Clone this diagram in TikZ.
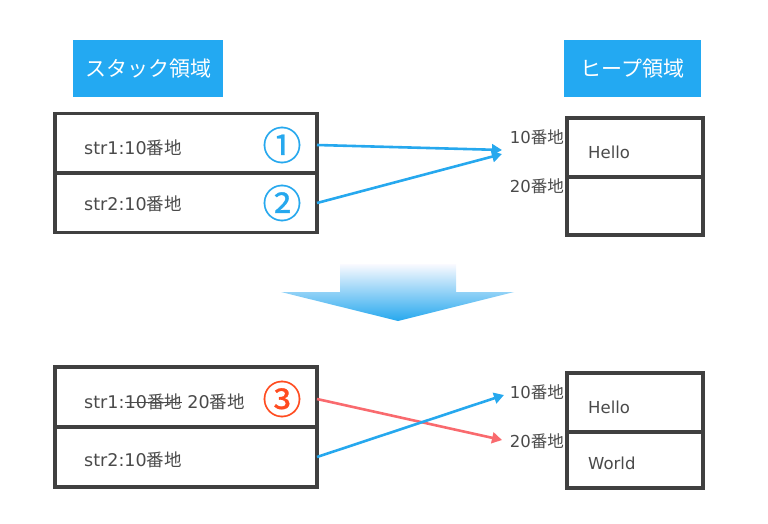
\documentclass[tikz,border=0pt]{standalone}
\usepackage{fontspec}
\setmainfont{DejaVu Sans}
\newfontfamily\jp{Noto Sans CJK JP}
\newfontfamily\jpcirc[FakeBold=0.8]{Noto Sans CJK JP}
\usetikzlibrary{arrows.meta}
\definecolor{hdr}{HTML}{23A9F2}
\definecolor{barrow}{HTML}{26A8EE}
\definecolor{rarrow}{HTML}{F96A6E}
\definecolor{circred}{HTML}{FF4B1F}
\definecolor{frame}{HTML}{404040}
\definecolor{txt}{HTML}{4A4A4A}
\begin{document}
\begin{tikzpicture}[x=1pt,y=-1pt,
  hdrbox/.style={fill=hdr,text=white,font=\jp\fontsize{21}{24}\selectfont,minimum height=57pt,inner sep=0pt},
  cell/.style={draw=frame,line width=3.4pt,fill=white,inner sep=0pt},
  celltext/.style={text=txt,font=\fontsize{17.5}{19}\selectfont,anchor=west,inner sep=0pt},
  heaptext/.style={text=txt,font=\fontsize{16.5}{18}\selectfont,anchor=west,inner sep=0pt},
  addr/.style={text=txt,font=\fontsize{16.5}{18}\selectfont,anchor=east,inner sep=0pt},
  circnum/.style={font=\jpcirc\fontsize{39}{42}\selectfont,inner sep=0pt},
  barr/.style={draw=barrow,line width=2.6pt,-{Triangle[length=10pt,width=11pt]}},
  rarr/.style={draw=rarrow,line width=2.6pt,-{Triangle[length=10pt,width=11pt]}}]
\useasboundingbox (0,0) rectangle (768,524);
% headers
\node[hdrbox,minimum width=150pt] (hs) at (148,68.5) {スタック領域};
\node[hdrbox,minimum width=137pt] (hh) at (632.5,68.5) {ヒープ領域};
% top stack
\node[cell,minimum width=262pt,minimum height=59.5pt] (s1) at (186,143.2) {};
\node[cell,minimum width=262pt,minimum height=59.5pt] (s2) at (186,202.7) {};
\node[celltext] (t1) at (84,148) {str1:10{\jp 番地}};
\node[celltext] (t2) at (84,204) {str2:10{\jp 番地}};
\node[circnum,text=barrow] (c1) at (282,145) {①};
\node[circnum,text=barrow] (c2) at (282,203) {②};
% top heap
\node[cell,minimum width=136pt,minimum height=59pt] (h1) at (635,147.5) {};
\node[cell,minimum width=136pt,minimum height=58pt] (h2) at (635,206) {};
\node[heaptext] (hello1) at (588,152) {Hello};
\node[addr] (a10) at (564,137) {10{\jp 番地}};
\node[addr] (a20) at (564,186) {20{\jp 番地}};
\coordinate (p1s) at (317,145);
\coordinate (p2s) at (317,203);
\coordinate (e1) at (502,150);
\coordinate (e2) at (502,154);
\draw[barr] (p1s) -- (e1);
\draw[barr] (p2s) -- (e2);
% down arrow
\shade[top color=blue!2!white, bottom color=barrow, shading angle=0]
  (340,264) -- (456,264) -- (456,292) -- (514,292) -- (398,321) -- (281,292) -- (340,292) -- cycle;
% bottom stack
\node[cell,minimum width=262pt,minimum height=60pt] (s3) at (186,397) {};
\node[cell,minimum width=262pt,minimum height=60pt] (s4) at (186,457) {};
\node[celltext] (t3a) at (84,402) {str1:};
\node[celltext] (t3b) at (t3a.east) {10{\jp 番地}};
\node[celltext] (t3c) at ([xshift=5pt]t3b.east) {20{\jp 番地}};
\draw[txt,line width=1.2pt] ([yshift=-0.5pt]t3b.west) -- ([yshift=-0.5pt]t3b.east);
\node[celltext] (t4) at (84,460) {str2:10{\jp 番地}};
\node[circnum,text=circred] (c3) at (282,399) {③};
% bottom heap
\node[cell,minimum width=136pt,minimum height=59pt] (h3) at (635,402.5) {};
\node[cell,minimum width=136pt,minimum height=56pt] (h4) at (635,460) {};
\node[heaptext] (hello2) at (588,407) {Hello};
\node[heaptext] (world) at (588,463) {World};
\node[addr] (b10) at (564,392) {10{\jp 番地}};
\node[addr] (b20) at (564,441) {20{\jp 番地}};
\coordinate (q1s) at (317,399);
\coordinate (q2s) at (317,457);
\coordinate (f1) at (502,440);
\coordinate (f2) at (504,395);
\draw[rarr] (q1s) -- (f1);
\draw[barr] (q2s) -- (f2);
\end{tikzpicture}
\end{document}
